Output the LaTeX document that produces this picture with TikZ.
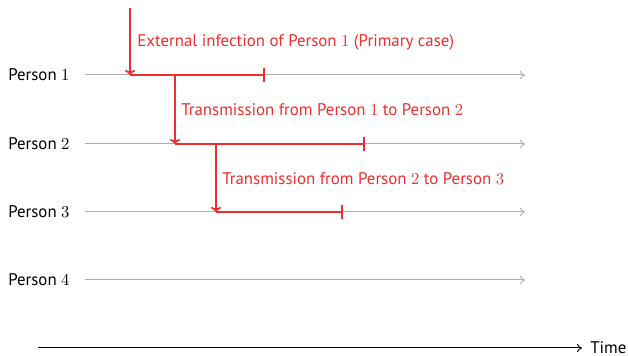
\documentclass[tikz,border=0pt]{standalone}
\usepackage{fontspec}
\setmainfont{PT Sans}
\usetikzlibrary{arrows.meta}
\definecolor{infred}{RGB}{240,45,45}
\definecolor{linegray}{RGB}{175,175,175}
\begin{document}
\begin{tikzpicture}[x=0.6pt,y=-0.6pt,
  every node/.style={font=\fontsize{10.1}{12}\selectfont, inner sep=0pt},
  person/.style={anchor=west},
  timeline/.style={draw=linegray, line width=0.6pt, -{To[length=3pt,width=5pt]}},
  infect/.style={draw=infred, line width=1.1pt, -{To[length=3pt,width=6pt]}},
  course/.style={draw=infred, line width=1.1pt, -{Bar[width=8pt]}},
  lab/.style={anchor=west, text=infred}]
\useasboundingbox (0,0) rectangle (628,356);
% person labels
\node[person] (p1) at (8,75) {Person $1$};
\node[person] (p2) at (8,144) {Person $2$};
\node[person] (p3) at (8,212) {Person $3$};
\node[person] (p4) at (8,280) {Person $4$};
% timeline ends
\coordinate (s1) at (85,75);  \coordinate (e1) at (525,75);
\coordinate (s2) at (85,144); \coordinate (e2) at (525,144);
\coordinate (s3) at (85,212); \coordinate (e3) at (525,212);
\coordinate (s4) at (85,280); \coordinate (e4) at (525,280);
\draw[timeline] (s1) -- (e1);
\draw[timeline] (s2) -- (e2);
\draw[timeline] (s3) -- (e3);
\draw[timeline] (s4) -- (e4);
% infection points
\coordinate (ext) at (130,8);
\coordinate (i1) at (130,75);
\coordinate (r1) at (265,75);
\coordinate (t1) at (175,75);
\coordinate (i2) at (175,144);
\coordinate (r2) at (365,144);
\coordinate (t2) at (216,144);
\coordinate (i3) at (216,212);
\coordinate (r3) at (343,212);
\draw[course] (i1) -- (r1);
\draw[course] (i2) -- (r2);
\draw[course] (i3) -- (r3);
\draw[infect] (ext) -- (i1);
\draw[infect] (t1) -- (i2);
\draw[infect] (t2) -- (i3);
% labels
\node[lab] (l1) at (137,42) {External infection of Person $1$ (Primary case)};
\node[lab] (l2) at (181,110) {Transmission from Person $1$ to Person $2$};
\node[lab] (l3) at (222,179) {Transmission from Person $2$ to Person $3$};
% time axis
\coordinate (ta) at (38,348);
\coordinate (tb) at (582,348);
\node[anchor=west] (time) at (590,348) {Time};
\draw[line width=0.6pt, -{To[length=3pt,width=5pt]}] (ta) -- (tb);
\end{tikzpicture}
\end{document}
